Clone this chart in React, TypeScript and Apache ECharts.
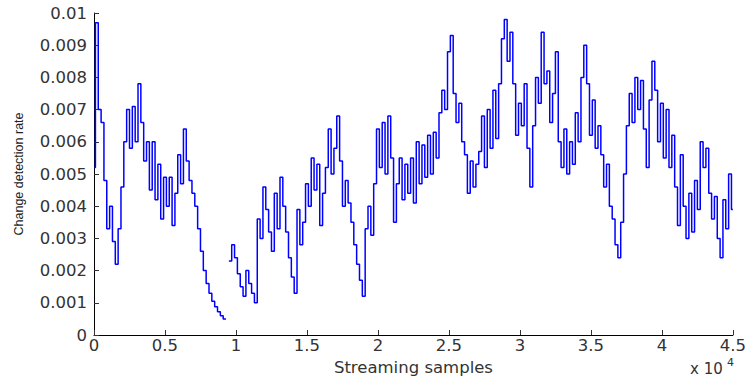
import React, { useEffect, useRef } from "react";
import * as echarts from "echarts";

// Streaming sample step between consecutive readings
const SAMPLE_STEP = 200;

// Change detection rate, one value every SAMPLE_STEP samples (null = gap)
const rates: (number | null)[] = [
  0.0052, 0.0097, 0.0070, 0.0066, 0.0048, 0.0033, 0.0040, 0.0029, 0.0022, 0.0033,
  0.0046, 0.0060, 0.0070, 0.0058, 0.0071, 0.0060, 0.0078, 0.0066, 0.0054, 0.0060,
  0.0045, 0.0060, 0.0042, 0.0053, 0.0036, 0.0049, 0.0040, 0.0049, 0.0034, 0.0044,
  0.0056, 0.0047, 0.0064, 0.0054, 0.0048, 0.0044, 0.0040, 0.0033, 0.0026, 0.0020,
  0.0016, 0.0013, 0.00105, 0.00088, 0.00072, 0.0006, 0.0005, null, 0.0023, 0.0028,
  0.0024, 0.0019, 0.0015, 0.0012, 0.0020, 0.0016, 0.0013, 0.0010, 0.0036, 0.0030,
  0.0046, 0.0039, 0.0032, 0.0026, 0.0044, 0.0033, 0.0049, 0.0040, 0.0032, 0.0024,
  0.0018, 0.0013, 0.0039, 0.0028, 0.0035, 0.0047, 0.0040, 0.0055, 0.0045, 0.0053,
  0.0034, 0.0044, 0.0052, 0.0064, 0.0050, 0.0058, 0.0068, 0.0054, 0.0040, 0.0048,
  0.0041, 0.0035, 0.0028, 0.0022, 0.0017, 0.0012, 0.0033, 0.0040, 0.0031, 0.0047,
  0.0064, 0.0052, 0.0066, 0.0050, 0.0068, 0.0055, 0.0035, 0.0047, 0.0055, 0.0042,
  0.0053, 0.0044, 0.0055, 0.0041, 0.0060, 0.0047, 0.0059, 0.0049, 0.0062, 0.0050,
  0.0063, 0.0055, 0.0069, 0.0076, 0.0070, 0.0088, 0.0093, 0.0075, 0.0066, 0.0072,
  0.0060, 0.0056, 0.0044, 0.0054, 0.0046, 0.0053, 0.0057, 0.0068, 0.0052, 0.0070,
  0.0058, 0.0076, 0.0061, 0.0078, 0.0092, 0.0098, 0.0085, 0.0094, 0.0078, 0.0062,
  0.0072, 0.0065, 0.0078, 0.0058, 0.0046, 0.0065, 0.0080, 0.0072, 0.0094, 0.0078,
  0.0082, 0.0066, 0.0075, 0.0088, 0.0060, 0.0052, 0.0064, 0.0050, 0.0060, 0.0053,
  0.0069, 0.0060, 0.0080, 0.0090, 0.0078, 0.0062, 0.0073, 0.0058, 0.0065, 0.0056,
  0.0046, 0.0053, 0.0040, 0.0036, 0.0028, 0.0024, 0.0035, 0.0050, 0.0065, 0.0075,
  0.0066, 0.0080, 0.0070, 0.0079, 0.0064, 0.0052, 0.0073, 0.0085, 0.0076, 0.0060,
  0.0072, 0.0055, 0.0070, 0.0052, 0.0062, 0.0046, 0.0034, 0.0056, 0.0040, 0.0030,
  0.0044, 0.0032, 0.0048, 0.0039, 0.0060, 0.0052, 0.0058, 0.0044, 0.0036, 0.0043,
  0.0030, 0.0024, 0.0042, 0.0033, 0.0050, 0.0039,
];

const xTickValues = [0, 5000, 10000, 15000, 20000, 25000, 30000, 35000, 40000, 45000];
const xLabel = "Streaming samples";
const yLabel = "Change detection rate";
const xScaleText = "x 10";
const xScaleExp = "4";

export default function App() {
  const ref = useRef<HTMLDivElement>(null);

  useEffect(() => {
    if (!ref.current) return;
    const chart = echarts.init(ref.current, null, { renderer: "svg" });
    const data = rates.map((v, i) => [i * SAMPLE_STEP, v === null ? "-" : v]);
    const tickFont = {
      fontFamily: "DejaVu Sans",
      fontSize: 16.5,
      color: "#333333",
    };
    chart.setOption({
      animation: false,
      backgroundColor: "#ffffff",
      grid: { left: 94, right: 14, top: 13, bottom: 46, containLabel: false },
      xAxis: {
        type: "value",
        min: xTickValues[0],
        max: xTickValues[xTickValues.length - 1],
        interval: xTickValues[1] - xTickValues[0],
        name: xLabel,
        nameLocation: "middle",
        nameGap: 19,
        nameTextStyle: { ...tickFont },
        axisLine: { show: true, onZero: false, lineStyle: { color: "#000000", width: 1 } },
        axisTick: { show: true, inside: true, length: 5, lineStyle: { color: "#333333" } },
        axisLabel: {
          ...tickFont,
          margin: 2,
          showMinLabel: true,
          showMaxLabel: true,
          formatter: (v: number) => String(v / 10000),
        },
        splitLine: { show: false },
      },
      yAxis: {
        type: "value",
        min: 0,
        max: 0.01,
        interval: 0.001,
        name: yLabel,
        nameLocation: "middle",
        nameGap: 69,
        nameRotate: 90,
        nameTextStyle: { fontFamily: "Liberation Sans", fontSize: 12.5, color: "#222222" },
        axisLine: { show: true, lineStyle: { color: "#000000", width: 1 } },
        axisTick: { show: true, inside: true, length: 5, lineStyle: { color: "#333333" } },
        axisLabel: {
          ...tickFont,
          margin: 7,
          showMinLabel: true,
          showMaxLabel: true,
          formatter: (v: number) => String(Number(v.toFixed(3))),
        },
        splitLine: { show: false },
      },
      graphic: [
        {
          type: "text",
          left: 690,
          top: 361,
          style: { text: xScaleText, font: "15px 'DejaVu Sans'", fill: "#333333" },
        },
        {
          type: "text",
          left: 727,
          top: 357,
          style: { text: xScaleExp, font: "11px 'DejaVu Sans'", fill: "#333333" },
        },
      ],
      series: [
        {
          type: "line",
          data,
          step: "middle",
          showSymbol: false,
          connectNulls: false,
          lineStyle: { color: "#0000ff", width: 1.5 },
          itemStyle: { color: "#0000ff" },
        },
      ],
    });
    return () => chart.dispose();
  }, []);

  return (
    <div
      ref={ref}
      style={{ position: "absolute", left: 0, top: 0, width: 749, height: 381 }}
    />
  );
}
